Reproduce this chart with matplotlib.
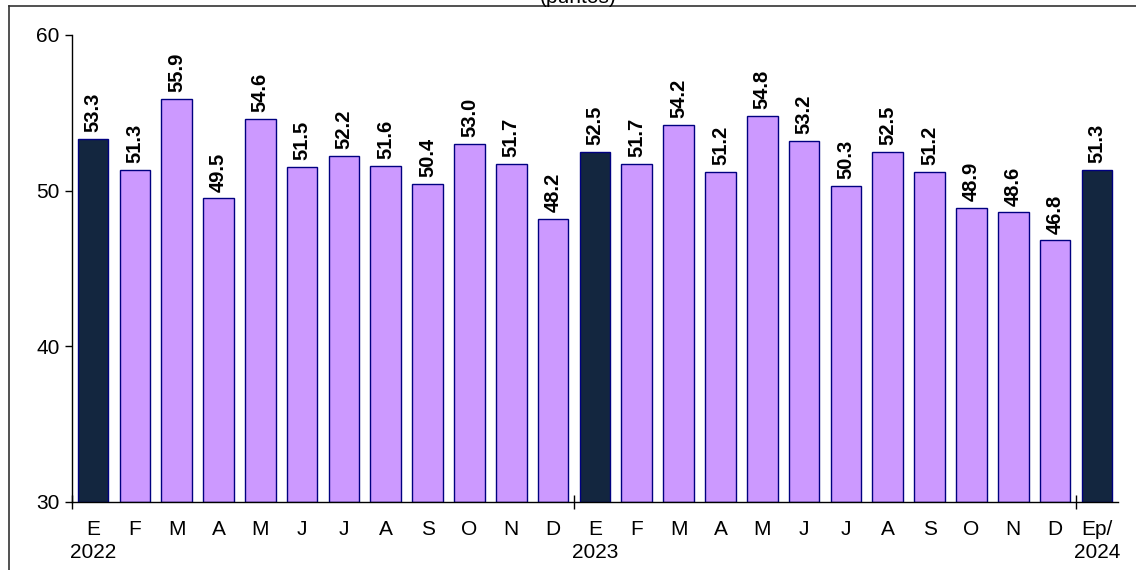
"""Monthly index bars, January 2022 to January 2024 (points)."""

import matplotlib

matplotlib.use("Agg")

import matplotlib.pyplot as plt
from matplotlib.lines import Line2D

plt.rcParams["font.family"] = ["Liberation Sans", "DejaVu Sans"]

MONTHS = ["E", "F", "M", "A", "M", "J", "J", "A", "S", "O", "N", "D"]
TICK_LABELS = (
    ["E\n2022"] + MONTHS[1:]
    + ["E\n2023"] + MONTHS[1:]
    + ["Ep/\n2024"]
)
VALUES = [
    53.3, 51.3, 55.9, 49.5, 54.6, 51.5, 52.2, 51.6, 50.4, 53.0, 51.7, 48.2,
    52.5, 51.7, 54.2, 51.2, 54.8, 53.2, 50.3, 52.5, 51.2, 48.9, 48.6, 46.8,
    51.3,
]
HIGHLIGHT = [0, 12, 24]  # January bars

NAVY = "#13263F"
LAVENDER = "#CC99FF"
EDGE = "#000080"


def main() -> None:
    fig = plt.figure(figsize=(11.36, 5.70), dpi=100)
    ax = fig.add_axes([0.0634, 0.1193, 0.9206, 0.8193])

    xs = list(range(len(VALUES)))
    colors = [NAVY if i in HIGHLIGHT else LAVENDER for i in xs]
    bars = ax.bar(xs, [v - 30 for v in VALUES], bottom=30, width=0.73,
                  color=colors, edgecolor=EDGE, linewidth=1.0, zorder=2)

    for rect, val in zip(bars, VALUES):
        ax.annotate(f"{val:.1f}", (rect.get_x() + rect.get_width() / 2, val),
                    xytext=(0, 5), textcoords="offset points",
                    ha="center", va="bottom", rotation=90,
                    fontsize=14.5, fontweight="bold", color="black")

    ax.set_ylim(30, 60)
    ax.set_yticks([30, 40, 50, 60])
    ax.tick_params(axis="y", direction="out", length=5, width=1,
                   labelsize=15, pad=4)

    ax.set_xlim(-0.5, len(VALUES) - 0.5)
    ax.set_xticks([-0.5, 11.5, 23.5])
    ax.set_xticklabels([])
    ax.tick_params(axis="x", which="major", direction="inout", length=10,
                   width=1)
    ax.set_xticks(xs, minor=True)
    ax.set_xticklabels(TICK_LABELS, minor=True, fontsize=15,
                       linespacing=1.25, va="top")
    ax.tick_params(axis="x", which="minor", length=0, pad=13)

    for side in ("top", "right"):
        ax.spines[side].set_visible(False)
    for side in ("left", "bottom"):
        ax.spines[side].set_linewidth(1.0)

    fig.text(0.509, 1 - 7 / 570, "(puntos)", ha="center", va="bottom",
             fontsize=15)
    fig.add_artist(Line2D([9 / 1136, 9 / 1136], [0, 1 - 6 / 570],
                          color="#333333", linewidth=1.2,
                          transform=fig.transFigure))
    fig.add_artist(Line2D([9 / 1136, 1], [1 - 6 / 570, 1 - 6 / 570],
                          color="#333333", linewidth=1.2,
                          transform=fig.transFigure))

    fig.savefig("out.png", dpi=100)
    plt.close(fig)


if __name__ == "__main__":
    main()
